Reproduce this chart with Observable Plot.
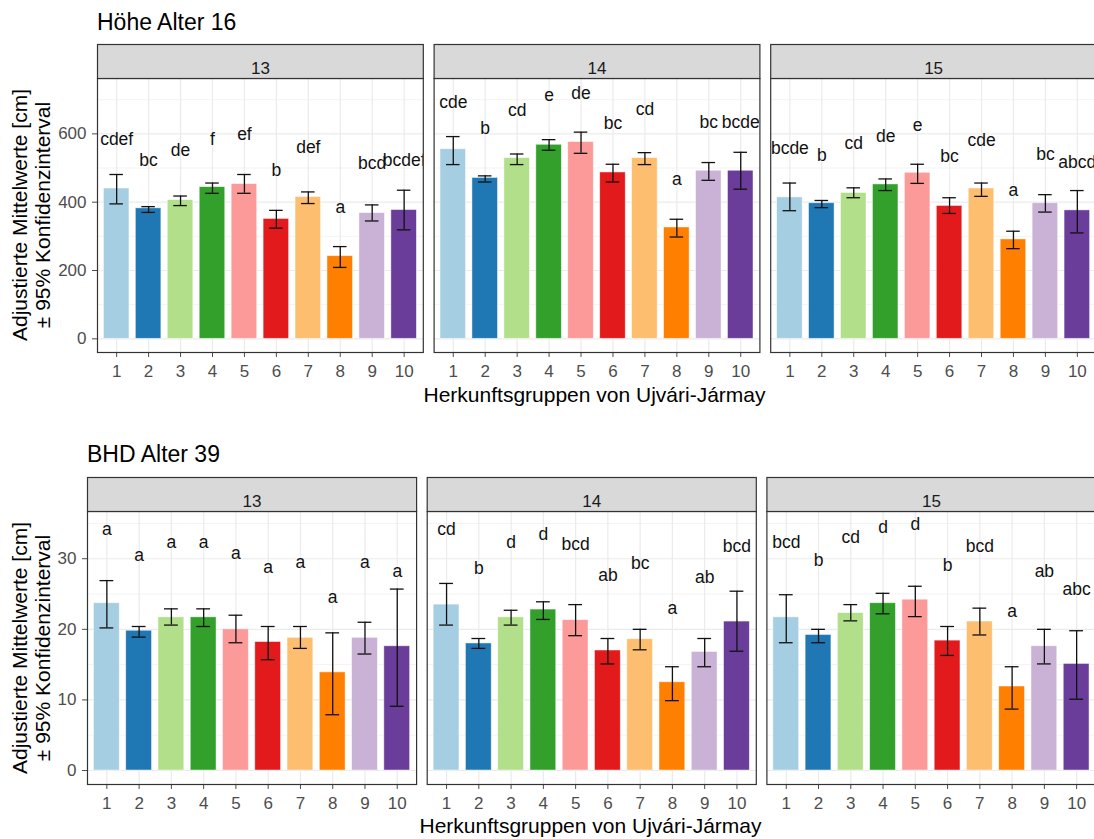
<!DOCTYPE html>
<html>
<head>
<meta charset="utf-8">
<script src="https://cdn.jsdelivr.net/npm/d3@7"></script>
<script src="https://cdn.jsdelivr.net/npm/@observablehq/plot@0.6"></script>
<style>
  html, body { margin: 0; padding: 0; background: #fff; overflow: hidden; }
  #page { position: relative; width: 1094px; height: 839px; overflow: hidden; font-family: "Liberation Sans", Arial, sans-serif; }
  .abs { position: absolute; white-space: nowrap; line-height: 1; color: #000; }
  .title { font-size: 23px; }
  .xtitle { font-size: 21px; transform: translateX(-50%); }
  .ytitle { font-size: 21px; line-height: 23px; text-align: center; transform: translate(-50%, -50%) rotate(-90deg); }
  .chart { position: absolute; left: 0; width: 1104px; }
  .chart svg { max-width: none !important; }
</style>
</head>
<body>
<div id="page">
  <div class="abs title" style="left:97px; top:10.5px;">Höhe Alter 16</div>
  <div class="abs ytitle" style="left:31px; top:215px;">Adjustierte Mittelwerte [cm]<br>± 95% Konfidenzinterval</div>
  <div class="chart" id="c1" style="top:40px;"></div>
  <div class="abs xtitle" style="left:594.5px; top:384px;">Herkunftsgruppen von Ujvári-Jármay</div>

  <div class="abs title" style="left:87px; top:442.5px;">BHD Alter 39</div>
  <div class="abs ytitle" style="left:31px; top:647.5px;">Adjustierte Mittelwerte [cm]<br>± 95% Konfidenzinterval</div>
  <div class="chart" id="c2" style="top:471px;"></div>
  <div class="abs xtitle" style="left:590.5px; top:814.5px;">Herkunftsgruppen von Ujvári-Jármay</div>
</div>
<script>
// ---------- data ----------
const panels = ["13", "14", "15"];
const groups = ["1", "2", "3", "4", "5", "6", "7", "8", "9", "10"];
const groupColors = ["#A6CEE3", "#1F78B4", "#B2DF8A", "#33A02C", "#FB9A99", "#E31A1C", "#FDBF6F", "#FF7F00", "#CAB2D6", "#6A3D9A"];

// Höhe Alter 16 (one row per panel 13, 14, 15)
const hoeheMean = [
  [440, 382, 406, 444, 453, 351, 415, 242, 368, 377],
  [555, 471, 529, 568, 576, 487, 529, 326, 492, 492],
  [414, 397, 427, 452, 486, 389, 440, 291, 397, 376]
];
const hoeheLo = [
  [395, 370, 390, 426, 426, 324, 396, 209, 345, 319],
  [510, 459, 510, 552, 543, 459, 510, 298, 464, 438],
  [375, 384, 413, 434, 455, 367, 417, 264, 371, 310]
];
const hoeheHi = [
  [481, 387, 418, 456, 481, 376, 430, 270, 392, 435],
  [592, 477, 541, 583, 605, 511, 545, 350, 516, 546],
  [456, 405, 442, 468, 511, 413, 456, 315, 422, 434]
];
const hoeheLetters = [
  ["cdef", "bc", "de", "f", "ef", "b", "def", "a", "bcd", "bcdef"],
  ["cde", "b", "cd", "e", "de", "bc", "cd", "a", "bc", "bcde"],
  ["bcde", "b", "cd", "de", "e", "bc", "cde", "a", "bc", "abcd"]
];
const hoeheLabelY = [
  [585, 521, 551, 585, 597, 492, 561, 385, 514, 521],
  [693, 615, 668, 712, 719, 631, 673, 468, 634, 634],
  [558, 536, 571, 592, 626, 533, 580, 435, 541, 517]
];
const hoeheMajorTicks = [0, 200, 400, 600];
const hoeheMinorTicks = [100, 300, 500, 700];

// BHD Alter 39
const bhdMean = [
  [23.7, 19.8, 21.7, 21.7, 20.0, 18.2, 18.8, 13.9, 18.8, 17.6],
  [23.5, 18.0, 21.7, 22.8, 21.3, 17.0, 18.6, 12.5, 16.8, 21.1],
  [21.7, 19.2, 22.3, 23.7, 24.2, 18.4, 21.1, 11.9, 17.6, 15.1]
];
const bhdLo = [
  [20.2, 18.9, 20.6, 20.4, 18.1, 15.7, 17.3, 7.9, 16.5, 9.1],
  [20.6, 17.3, 20.6, 21.4, 19.1, 15.1, 17.1, 9.9, 14.7, 16.9],
  [18.1, 18.1, 21.2, 22.2, 21.8, 16.3, 19.2, 8.7, 15.1, 10.1]
];
const bhdHi = [
  [26.9, 20.4, 22.9, 22.9, 22.0, 20.4, 20.4, 19.5, 21.0, 25.7],
  [26.5, 18.7, 22.7, 23.9, 23.5, 18.7, 20.0, 14.7, 18.7, 25.4],
  [24.9, 20.0, 23.5, 25.1, 26.1, 20.4, 23.0, 14.7, 20.0, 19.8]
];
const bhdLetters = [
  ["a", "a", "a", "a", "a", "a", "a", "a", "a", "a"],
  ["cd", "b", "d", "d", "bcd", "ab", "bc", "a", "ab", "bcd"],
  ["bcd", "b", "cd", "d", "d", "b", "bcd", "a", "ab", "abc"]
];
const bhdLabelY = [
  [34.2, 30.5, 32.3, 32.3, 30.7, 28.8, 29.5, 24.5, 29.5, 28.2],
  [34.1, 28.7, 32.3, 33.4, 32.0, 27.6, 29.3, 23.0, 27.4, 31.8],
  [32.3, 29.8, 33.0, 34.4, 34.8, 29.0, 31.8, 22.5, 28.2, 25.7]
];
const bhdMajorTicks = [0, 10, 20, 30];
const bhdMinorTicks = [5, 15, 25, 35];

// ---------- build ----------
function rowsFrom(mean, lo, hi, letters, labelY) {
  const rows = [];
  panels.forEach((p, i) => groups.forEach((g, j) => rows.push({
    panel: p, group: g, mean: mean[i][j], lo: lo[i][j], hi: hi[i][j], letter: letters[i][j], labelY: labelY[i][j]
  })));
  return rows;
}

function makeChart(cfg) {
  const {rows, yDomain, majors, minors, width, height, marginTop, marginBottom, marginLeft, marginRight, gap} = cfg;
  const R = width - marginLeft - marginRight;
  const panelW = (R - 2 * gap) / 3;
  const step = panelW + gap;
  const panelH = height - marginTop - marginBottom;
  const stripH = 34;
  return Plot.plot({
    width, height, marginTop, marginBottom, marginLeft, marginRight,
    style: {fontFamily: "'Liberation Sans', Arial, sans-serif", fontSize: "17px", color: "#4d4d4d", background: "transparent", overflow: "visible", maxWidth: "none"},
    fx: {domain: panels, paddingInner: gap / step, paddingOuter: 0, round: false, axis: null, label: null},
    x: {domain: groups, paddingInner: 0.2, paddingOuter: 0.2, round: false, tickSize: 5, tickPadding: 7, label: null},
    y: {domain: yDomain, ticks: majors, tickSize: 5, tickPadding: 6, label: null},
    color: {domain: groups, range: groupColors},
    marks: [
      Plot.gridY(minors, {stroke: "#ebebeb", strokeOpacity: 1, strokeWidth: 0.6}),
      Plot.gridY(majors, {stroke: "#ebebeb", strokeOpacity: 1, strokeWidth: 1.2}),
      Plot.gridX({stroke: "#ebebeb", strokeOpacity: 1, strokeWidth: 1.2}),
      Plot.barY(rows, {fx: "panel", x: "group", y: "mean", fill: "group", stroke: "white", strokeOpacity: 0.6, strokeWidth: 0.8}),
      Plot.ruleX(rows, {fx: "panel", x: "group", y1: "lo", y2: "hi", stroke: "#111", strokeWidth: 1.3}),
      Plot.tickY(rows, {fx: "panel", x: "group", y: "lo", stroke: "#111", strokeWidth: 1.3, insetLeft: 6, insetRight: 6}),
      Plot.tickY(rows, {fx: "panel", x: "group", y: "hi", stroke: "#111", strokeWidth: 1.3, insetLeft: 6, insetRight: 6}),
      Plot.text(rows, {fx: "panel", x: "group", y: "labelY", text: "letter", fontSize: 17.5, fill: "#111", clip: true}),
      Plot.frame({stroke: "#333", strokeWidth: 1.2}),
      Plot.frame({fill: "#d9d9d9", stroke: "#333", strokeWidth: 1.2, insetTop: -stripH, insetBottom: panelH}),
      Plot.text(panels, {fx: d => d, text: d => d, frameAnchor: "top", dy: -stripH / 2, fontSize: 17, fill: "#1a1a1a"})
    ]
  });
}

document.getElementById("c1").appendChild(makeChart({
  rows: rowsFrom(hoeheMean, hoeheLo, hoeheHi, hoeheLetters, hoeheLabelY),
  yDomain: [-40, 762], majors: hoeheMajorTicks, minors: hoeheMinorTicks,
  width: 1104, height: 340, marginTop: 38, marginBottom: 28, marginLeft: 97, marginRight: 8, gap: 10.8
}));
document.getElementById("c2").appendChild(makeChart({
  rows: rowsFrom(bhdMean, bhdLo, bhdHi, bhdLetters, bhdLabelY),
  yDomain: [-1.98, 36.69], majors: bhdMajorTicks, minors: bhdMinorTicks,
  width: 1104, height: 341, marginTop: 40, marginBottom: 28, marginLeft: 87, marginRight: 8.5, gap: 10.6
}));
</script>
</body>
</html>
